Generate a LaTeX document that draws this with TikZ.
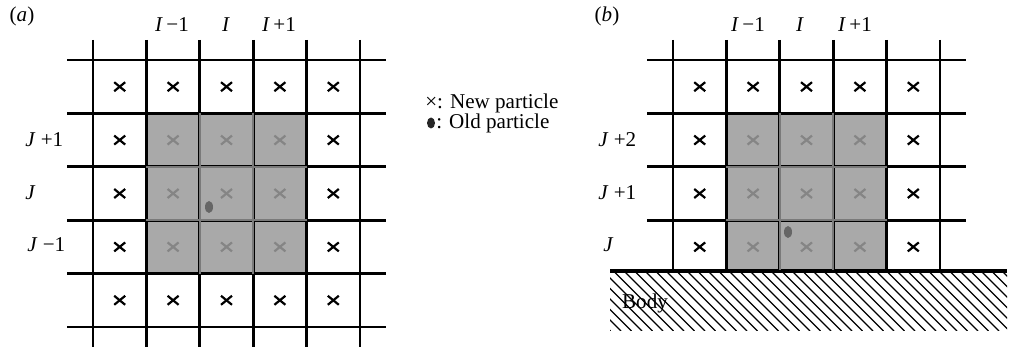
\documentclass[tikz,border=0pt]{standalone}
\usepackage{fontspec}
\setmainfont{Liberation Serif}
\usepackage{xcolor}
\usepackage{tikz}
\definecolor{cellgray}{HTML}{A9A9A9}
\definecolor{innergray}{HTML}{7A7A7A}
\definecolor{crossgray}{HTML}{858585}
\definecolor{dotgray}{HTML}{666666}
\tikzset{
  gridline/.style={black,line width=1.6pt},
  innerline/.style={innergray,line width=1pt},
  hatchline/.style={black,line width=0.75pt},
  lab/.style={inner sep=0pt},
}
\newcommand{\newpart}[3]{%
  \draw[#3,line width=1.25pt] (#1-5.5,#2-4.5)--(#1+5.5,#2+4.5);
  \draw[#3,line width=1.25pt] (#1-5.5,#2+4.5)--(#1+5.5,#2-4.5);
}

\begin{document}
\begin{tikzpicture}[x=0.02cm,y=-0.02cm,font=\fontsize{12}{14}\selectfont]
  \useasboundingbox (0,0) rectangle (1010,354);
  \begin{scope}
    \node[lab] (tagA) at (22,16) {(\textit{a})};
    \fill[cellgray] (146.4,113.4) rectangle (306.6,273.6);
    \foreach \i in {0,...,5}{
      \draw[gridline] (93+53.4*\i,40)--(93+53.4*\i,347);
      \draw[gridline] (67,60+53.4*\i)--(386,60+53.4*\i);
    }
    \foreach \i in {1,2}{
      \draw[innerline] (146.4+53.4*\i,113.4)--(146.4+53.4*\i,273.6);
      \draw[innerline] (146.4,113.4+53.4*\i)--(306.6,113.4+53.4*\i);
    }
    \foreach \i in {0,...,4}{
      \newpart{119.7+53.4*\i}{86.7}{black}
      \newpart{119.7+53.4*\i}{300.3}{black}
    }
    \foreach \j in {1,2,3}{
      \newpart{119.7}{86.7+53.4*\j}{black}
      \newpart{333.3}{86.7+53.4*\j}{black}
      \foreach \i in {1,2,3}{\newpart{119.7+53.4*\i}{86.7+53.4*\j}{crossgray}}
    }
    \fill[dotgray] (209,207) ellipse (4 and 6);
    \node[lab] (colA1) at (172,25) {\textit{I}\,−1};
    \node[lab] (colA2) at (226,25) {\textit{I}};
    \node[lab] (colA3) at (279,25) {\textit{I}\,+1};
    \node[lab,anchor=west] (rowA1) at (25,140) {\textit{J} +1};
    \node[lab,anchor=west] (rowA2) at (25,193) {\textit{J}};
    \node[lab,anchor=west] (rowA3) at (27,245) {\textit{J} −1};
  \end{scope}
  % legend
  \node[lab,anchor=west] (newkey) at (425,103) {×: New particle};
  \fill[black!85] (431,123) ellipse (4 and 5.5);
  \node[lab,anchor=west] (oldkey) at (436,123) {: Old particle};
  \begin{scope}[shift={(580,0)}]
    \node[lab] (tagB) at (27,16) {(\textit{b})};
    \fill[cellgray] (146.4,113.4) rectangle (306.6,271);
    \begin{scope}
      \clip (30,271) rectangle (427,330);
      \foreach \k in {0,...,46}{\draw[hatchline] (-40+10.5*\k,271)--++(60,60);}
    \end{scope}
    \foreach \i in {0,...,5}{
      \draw[gridline] (93+53.4*\i,40)--(93+53.4*\i,271);
    }
    \foreach \i in {0,...,3}{
      \draw[gridline] (67,60+53.4*\i)--(386,60+53.4*\i);
    }
    \draw[black,line width=2.4pt] (30,271)--(427,271);
    \foreach \i in {1,2}{
      \draw[innerline] (146.4+53.4*\i,113.4)--(146.4+53.4*\i,270);
      \draw[innerline] (146.4,113.4+53.4*\i)--(306.6,113.4+53.4*\i);
    }
    \foreach \i in {0,...,4}{
      \newpart{119.7+53.4*\i}{86.7}{black}
    }
    \foreach \j in {1,2,3}{
      \newpart{119.7}{86.7+53.4*\j}{black}
      \newpart{333.3}{86.7+53.4*\j}{black}
      \foreach \i in {1,2,3}{\newpart{119.7+53.4*\i}{86.7+53.4*\j}{crossgray}}
    }
    \fill[dotgray] (208,232) ellipse (4 and 6);
    \node[lab] (colB1) at (168,25) {\textit{I}\,−1};
    \node[lab] (colB2) at (220,25) {\textit{I}};
    \node[lab] (colB3) at (275,25) {\textit{I}\,+1};
    \node[lab,anchor=west] (rowB1) at (18,140) {\textit{J} +2};
    \node[lab,anchor=west] (rowB2) at (18,193) {\textit{J} +1};
    \node[lab,anchor=west] (rowB3) at (23,245) {\textit{J}};
    \node[lab] (bodylab) at (65,303) {Body};
  \end{scope}
\end{tikzpicture}
\end{document}
